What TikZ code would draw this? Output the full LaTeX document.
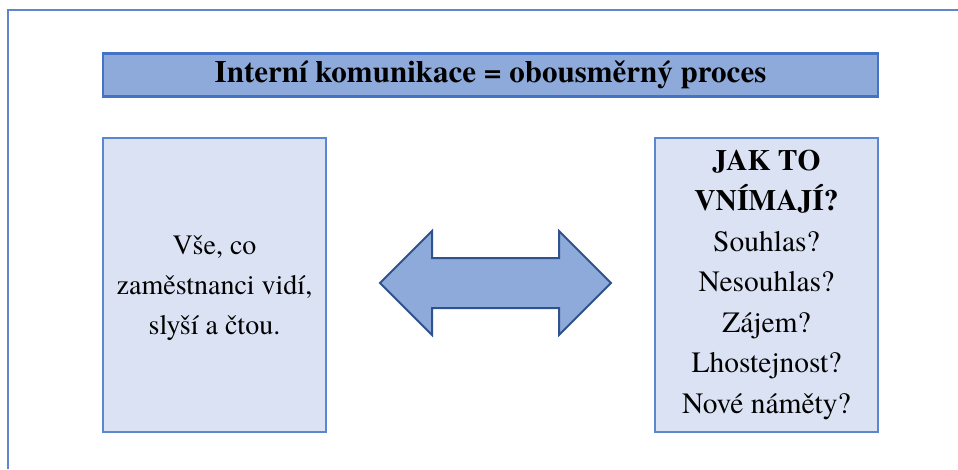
\documentclass[tikz,border=0pt]{standalone}
\usepackage{fontspec}
\setmainfont{texgyretermes}[Extension=.otf, UprightFont=*-regular, BoldFont=*-bold, ItalicFont=*-italic, BoldItalicFont=*-bolditalic]
\definecolor{frameblue}{HTML}{4472C4}
\definecolor{boxedge}{HTML}{5B86D0}
\definecolor{titlefill}{HTML}{8EAADB}
\definecolor{panelfill}{HTML}{DAE2F3}
\definecolor{arrowedge}{HTML}{2F528F}
\tikzset{
  titlebar/.style={draw=frameblue, line width=2.2pt, fill=titlefill,
    minimum width=775pt, minimum height=43pt, inner sep=0pt,
    font=\fontsize{31}{34}\selectfont\bfseries},
  panel/.style={draw=boxedge, line width=2pt, fill=panelfill,
    minimum width=223pt, minimum height=294pt, inner sep=0pt, align=center},
  linkarrow/.style={draw=arrowedge, line width=2pt, fill=titlefill, line join=miter},
}
\begin{document}
\begin{tikzpicture}[x=1pt, y=-1pt]
  \useasboundingbox (0,0) rectangle (958,469);
  % outer frame, only its top and left edges fall inside the page
  \draw[frameblue!85, line width=2.2pt] (8,469) -- (8,10) -- (958,10);

  \node[titlebar] (title) at (490.5,75) {Interní komunikace = obousměrný proces};

  \node[panel] (left) at (214.5,285) {};
  \node[font=\fontsize{28}{40}\selectfont, align=center, inner sep=0pt]
    (lefttext) at ([yshift=-3pt]left.center)
    {Vše, co\\zaměstnanci vidí,\\slyší a čtou.};

  \node[panel] (right) at (766.5,285) {};
  \node[font=\fontsize{29.5}{40.5}\selectfont, align=center, inner sep=0pt]
    (righttext) at (right.center)
    {\textbf{JAK TO}\\\textbf{VNÍMAJÍ?}\\Souhlas?\\Nesouhlas?\\Zájem?\\Lhostejnost?\\Nové náměty?};

  % two-headed arrow between the panels
  \coordinate (lt) at (380,283);
  \coordinate (rt) at (611,283);
  \draw[linkarrow] (lt) -- ++(52,-52) -- ++(0,27) -- ++(127,0) -- ++(0,-27)
    -- (rt) -- ++(-52,52) -- ++(0,-27) -- ++(-127,0) -- ++(0,27) -- cycle;
\end{tikzpicture}
\end{document}
